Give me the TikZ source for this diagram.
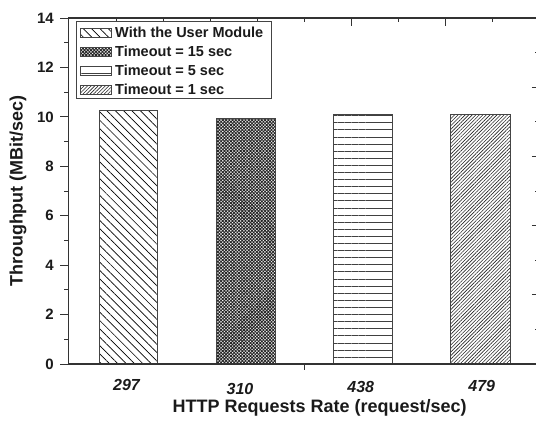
\documentclass[tikz,border=0pt]{standalone}
\usepackage{fontspec}
\setmainfont{Liberation Sans}
\usetikzlibrary{patterns.meta}
\definecolor{axisgray}{HTML}{333333}
\definecolor{bargray}{HTML}{444444}
\definecolor{txt}{HTML}{1A1A1A}
\begin{document}
\begin{tikzpicture}[x=1pt,y=-1pt,
  axisline/.style={draw=axisgray,line width=1.3pt},
  tickline/.style={draw=axisgray,line width=1pt},
  barbox/.style={draw=bargray,line width=1pt},
  pA/.style={pattern={Lines[angle=-45,distance=5.9pt,line width=0.7pt]},pattern color=black},
  pB/.style={pattern={Hatch[angle=45,distance=2.3pt,line width=0.9pt]},pattern color=black!85},
  pC/.style={pattern={Lines[angle=0,distance=7.1pt,line width=0.8pt]},pattern color=black!75},
  pD/.style={pattern={Lines[angle=45,distance=2.5pt,line width=0.6pt]},pattern color=black!85},
  ticklab/.style={anchor=east,inner sep=0pt,text=txt,font=\fontsize{15}{15}\selectfont\bfseries},
  catlab/.style={inner sep=0pt,text=txt,font=\fontsize{16}{16}\selectfont\bfseries\itshape},
  title/.style={inner sep=0pt,text=txt,font=\fontsize{18}{18}\selectfont\bfseries},
  leglab/.style={anchor=west,inner sep=0pt,text=txt,font=\fontsize{14.5}{14.5}\selectfont\bfseries},
  swatch/.style={draw=bargray,line width=0.8pt}]
\clip (0,0) rectangle (536,421);
\useasboundingbox (0,0) rectangle (536,421);
% bars
\path[pA] (99.3,364) rectangle (157.3,110);
\draw[barbox] (99.3,364) rectangle (157.3,110);
\path[pB] (216,364) rectangle (275.3,118.3);
\draw[barbox] (216,364) rectangle (275.3,118.3);
\path[pC] (333.3,364) rectangle (392.7,114.3);
\draw[barbox] (333.3,364) rectangle (392.7,114.3);
\path[pD] (450.7,364) rectangle (510,114.3);
\draw[barbox] (450.7,364) rectangle (510,114.3);
% frame
\draw[axisline] (68.3,364) -- (545,364);
\draw[axisline] (68.3,18) -- (545,18);
\draw[axisline] (68.3,18) -- (68.3,364);
\draw[axisline] (539.3,18) -- (539.3,364);
% left ticks and labels
\foreach \v in {0,2,...,14}{
  \draw[tickline] (60.3,{364-24.714*\v}) -- (68.3,{364-24.714*\v});
  \node[ticklab] (yl\v) at (54,{364-24.714*\v}) {\v};
}
\foreach \v in {1,3,...,13}{
  \draw[tickline] (64.3,{364-24.714*\v}) -- (68.3,{364-24.714*\v});
}
% top ticks
\foreach \k in {2,4,...,10}{
  \draw[tickline] ({69.3+47*\k},18) -- ({69.3+47*\k},25.5);
}
\foreach \k in {1,3,...,9}{
  \draw[tickline] ({69.3+47*\k},18) -- ({69.3+47*\k},22);
}
% right ticks
\foreach \k in {0,2,...,10}{
  \draw[tickline] (531.8,{364-34.6*\k}) -- (539.3,{364-34.6*\k});
}
\foreach \k in {1,3,...,9}{
  \draw[tickline] (535.3,{364-34.6*\k}) -- (539.3,{364-34.6*\k});
}
% bottom tick
\draw[tickline] (304.3,364) -- (304.3,370);
% category labels
\node[catlab] (c1) at (126.5,385) {297};
\node[catlab] (c2) at (240,388.5) {310};
\node[catlab] (c3) at (360.7,387.4) {438};
\node[catlab] (c4) at (481.7,386) {479};
% titles
\node[title] (xt) at (319.7,408) {HTTP Requests Rate (request/sec)};
\node[title,rotate=90] (yt) at (18,191) {Throughput (MBit/sec)};
% legend
\draw[draw=bargray,line width=1pt,fill=white] (76,21.7) rectangle (271,98.3);
\path[pA] (80.7,28) rectangle (111,37);
\draw[swatch] (80.7,28) rectangle (111,37);
\node[leglab] (l1) at (115,32.5) {With the User Module};
\path[pB] (80.7,47) rectangle (111,56);
\draw[swatch] (80.7,47) rectangle (111,56);
\node[leglab] (l2) at (115,51.5) {Timeout = 15 sec};
\path[pC] (80.7,66) rectangle (111,75);
\draw[swatch] (80.7,66) rectangle (111,75);
\node[leglab] (l3) at (115,70.5) {Timeout = 5 sec};
\path[pD] (80.7,85) rectangle (111,94);
\draw[swatch] (80.7,85) rectangle (111,94);
\node[leglab] (l4) at (115,89.5) {Timeout = 1 sec};
\end{tikzpicture}
\end{document}
